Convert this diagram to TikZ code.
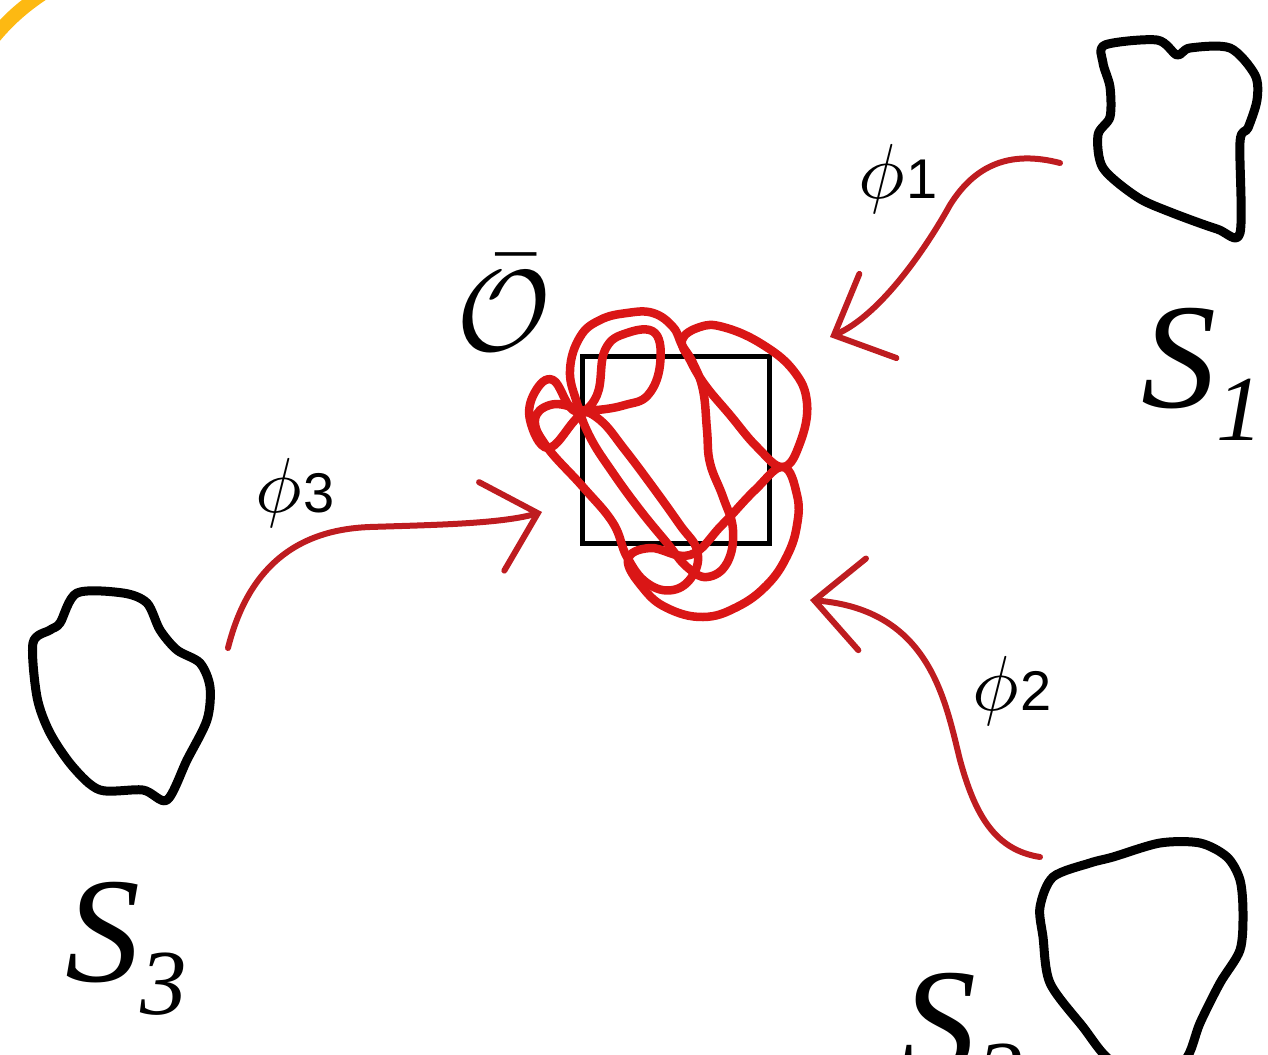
\documentclass[tikz,border=0pt]{standalone}
\usepackage{graphicx}
\usepackage{fontspec}
\usetikzlibrary{arrows.meta}
\newfontfamily\timesfont{Liberation Serif}
\newfontfamily\helvfont{Liberation Sans}
\definecolor{fluxred}{RGB}{190,28,32}
\definecolor{scribred}{RGB}{218,22,22}
\definecolor{ringorange}{RGB}{253,185,18}
\newcommand{\srclabel}[1]{{\timesfont\itshape\fontsize{150}{150}\selectfont S\raisebox{-33pt}{\fontsize{93}{93}\selectfont #1}}}
\newcommand{\fluxlabel}[1]{\scalebox{7.8}{$\phi$}\,{\helvfont\fontsize{56}{56}\selectfont #1}}
\tikzset{
  blob/.style={line width=9pt, line join=round},
  flux/.style={fluxred, line width=6pt, line cap=round,
    -{Straight Barb[length=48pt, width=92pt, line cap=round]}},
  scribble/.style={scribred, line width=8.5pt, line join=round},
}
\begin{document}
\begin{tikzpicture}[x=1pt, y=-1pt]
\useasboundingbox (0,0) rectangle (1268,1054);
\clip (0,0) rectangle (1268,1054);
% corner ring
\draw[ringorange, line width=14pt] (-6,37) .. controls (10,18) and (25,5) .. (48,-10);
% sources
\draw[blob] plot[smooth cycle, tension=0.5] coordinates {(1105,45) (1157,40) (1177,55) (1190,48) (1230,48) (1255,75) (1257,100) (1248,128) (1240,142) (1240,233) (1217,229) (1170,212) (1137,197) (1103,168) (1098,135) (1110,117) (1110,87) (1103,63)};
\draw[blob] plot[smooth cycle, tension=0.5] coordinates {(77,593) (123,593) (147,603) (160,630) (177,650) (200,663) (210,687) (207,720) (187,760) (167,800) (143,790) (100,790) (73,767) (50,733) (37,697) (33,643) (50,630) (60,623)};
\draw[blob] plot[smooth cycle, tension=0.5] coordinates {(1040,907) (1053,877) (1090,863) (1113,857) (1160,843) (1200,843) (1227,857) (1240,880) (1243,913) (1240,950) (1220,983) (1200,1023) (1185,1060) (1150,1075) (1110,1060) (1083,1027) (1050,983) (1043,937)};
\node[anchor=base west] (s1) at (1138,407) {\srclabel{1}};
\node[anchor=base west] (s2) at (898,1072) {\srclabel{2}};
\node[anchor=base west] (s3) at (62,981) {\srclabel{3}};
% observation cell
\node[draw, line width=5pt, minimum size=187pt, inner sep=0pt] (cell) at (676,450) {};
\draw[scribble] plot[smooth cycle, tension=0.7] coordinates {(570,370) (580,337) (600,320) (627,313) (653,313) (673,327) (682,345) (693,363) (703,390) (707,430) (710,463) (723,497) (733,530) (727,563) (707,577) (687,567) (667,543) (640,510) (613,473) (590,437) (577,403)};
\draw[scribble] plot[smooth cycle, tension=0.7] coordinates {(597,395) (605,350) (627,333) (655,333) (660,365) (648,395) (625,405) (597,410) (573,410) (553,380) (535,392) (530,420) (548,448) (575,420)};
\draw[scribble] plot[smooth cycle, tension=0.7] coordinates {(682,340) (700,327) (723,327) (760,343) (793,370) (807,403) (800,443) (783,467) (757,447) (730,415) (705,385) (690,360)};
\draw[scribble] plot[smooth cycle, tension=0.7] coordinates {(783,467) (797,495) (797,525) (787,556) (767,585) (737,607) (703,617) (667,608) (643,588) (628,560) (650,548) (690,555) (722,525) (755,490)};
\draw[scribble] plot[smooth cycle, tension=0.7] coordinates {(535,420) (547,447) (583,487) (613,523) (627,557) (647,583) (673,590) (693,575) (697,550) (680,525) (655,490) (625,450) (600,420) (575,408) (550,405)};
\node[anchor=base west, inner sep=0pt] (obar) at (456,350) {\scalebox{11.5}{$\bar{\mathcal{O}}$}};
% fluxes
\coordinate (s1out) at (1060,163);
\coordinate (s2out) at (1040,857);
\coordinate (s3out) at (228,648);
\coordinate (c1in) at (830,337);
\coordinate (c2in) at (810,600);
\coordinate (c3in) at (542,512);
\draw[flux] (s1out) .. controls (1010,150) and (975,165) .. (950,205) .. controls (925,250) and (880,315) .. (c1in);
\draw[flux] (s2out) .. controls (995,850) and (975,815) .. (960,760) .. controls (945,700) and (930,610) .. (c2in);
\draw[flux] (s3out) .. controls (245,580) and (285,530) .. (370,527) .. controls (430,525) and (500,524) .. (c3in);
\node[anchor=base west, inner sep=0pt] (phi1) at (858,198) {\fluxlabel{1}};
\node[anchor=base west, inner sep=0pt] (phi2) at (972,710) {\fluxlabel{2}};
\node[anchor=base west, inner sep=0pt] (phi3) at (255,512) {\fluxlabel{3}};
\end{tikzpicture}
\end{document}
